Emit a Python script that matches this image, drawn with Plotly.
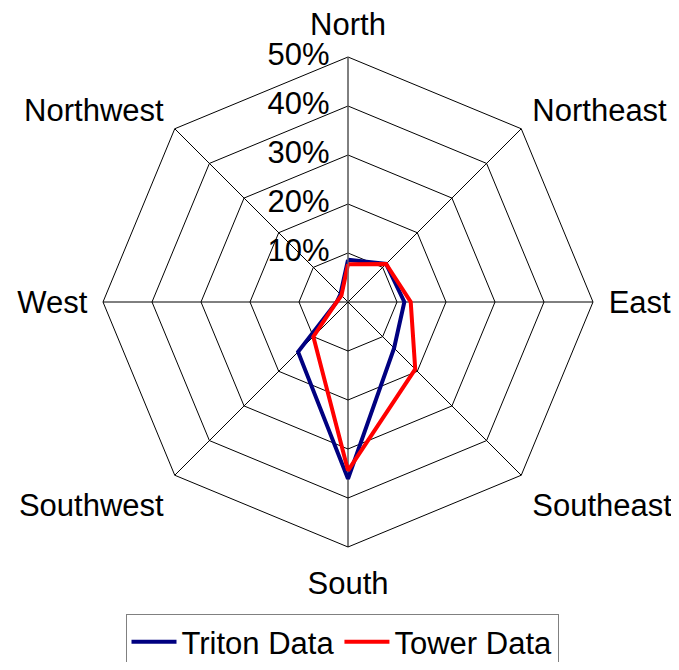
import plotly.graph_objects as go

directions = ["North", "Northeast", "East", "Southeast", "South", "Southwest", "West", "Northwest"]
triton = [8.6, 11.0, 11.5, 13.3, 36.1, 14.4, 2.3, 2.2]
tower = [7.7, 11.0, 12.8, 19.4, 34.4, 10.0, 2.3, 1.9]
radial_ticks = [0, 10, 20, 30, 40, 50]
radial_labels = [f"{v}%" for v in radial_ticks]

W, H = 663, 654  # page body has an 8px margin

fig = go.Figure()
fig.add_trace(go.Scatterpolar(
    r=triton + triton[:1], theta=directions + directions[:1],
    mode="lines", name="Triton Data",
    line=dict(color="#000080", width=4)))
fig.add_trace(go.Scatterpolar(
    r=tower + tower[:1], theta=directions + directions[:1],
    mode="lines", name="Tower Data",
    line=dict(color="#FF0000", width=4)))
# radial tick labels, left of the north spoke
fig.add_trace(go.Scatterpolar(
    r=radial_ticks, theta=[directions[0]] * len(radial_ticks),
    mode="markers+text", text=radial_labels, textposition="middle left",
    marker=dict(size=28, color="rgba(0,0,0,0)"),
    textfont=dict(size=31, color="black"),
    showlegend=False, hoverinfo="skip", cliponaxis=False))

fig.update_layout(
    width=W, height=H,
    margin=dict(l=0, r=0, t=0, b=0, autoexpand=False),
    paper_bgcolor="white",
    font=dict(family="Liberation Sans, Arial, sans-serif", size=31, color="black"),
    polar=dict(
        domain=dict(x=[(340 - 245) / W, (340 + 245) / W],
                    y=[1 - 539 / H, 1 - 49 / H]),
        bgcolor="white",
        gridshape="linear",
        angularaxis=dict(
            direction="clockwise", rotation=90,
            categoryorder="array", categoryarray=directions,
            showline=True, linecolor="black", linewidth=1,
            gridcolor="black", gridwidth=1,
            ticks="outside", ticklen=9, tickcolor="rgba(0,0,0,0)",
            tickfont=dict(size=31),
        ),
        radialaxis=dict(
            range=[0, 50], tickvals=radial_ticks,
            angle=90, showticklabels=False,
            showline=True, linecolor="#808080", linewidth=1,
            gridcolor="black", gridwidth=1,
            ticks="",
        ),
    ),
    showlegend=True,
    legend=dict(
        orientation="h",
        x=334 / W, xanchor="center", y=1 - 606 / H, yanchor="top",
        bordercolor="#808080", borderwidth=1, font=dict(size=31),
        bgcolor="white", itemwidth=45,
    ),
)

fig.write_html("out.html")
